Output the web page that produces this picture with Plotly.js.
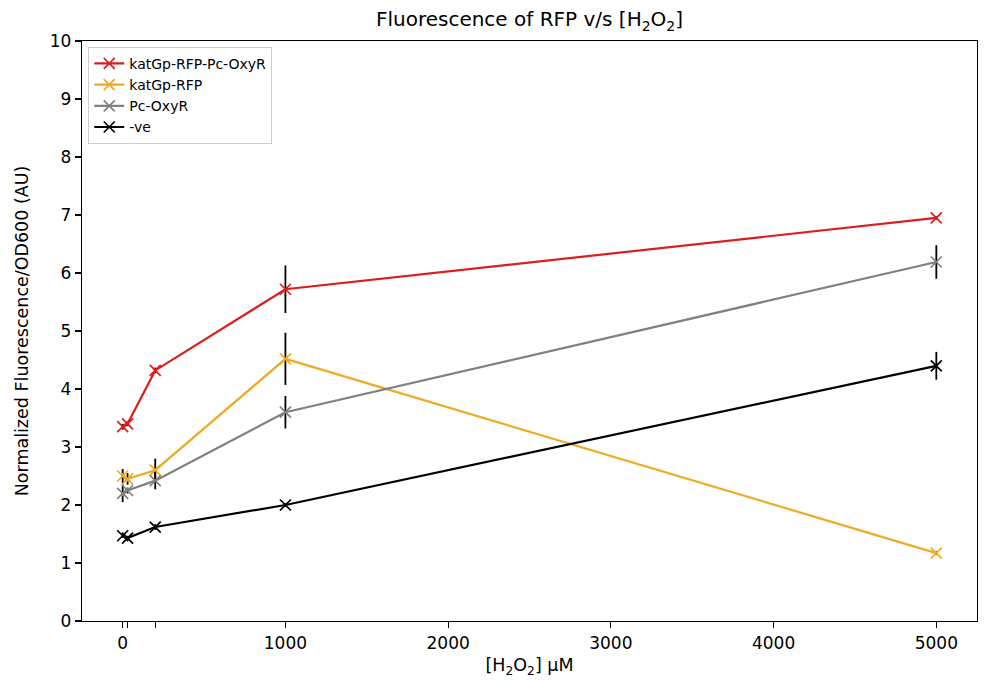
<!DOCTYPE html>
<html>
<head>
<meta charset="utf-8">
<script src="https://cdn.plot.ly/plotly-3.0.1.min.js"></script>
<style>html,body{margin:0;padding:0;background:#fff;}#chart{width:989px;height:693px;}</style>
</head>
<body>
<div id="chart"></div>
<script>
const concentrations = [0, 30, 200, 1000, 5000];
const seriesNames = ["katGp-RFP-Pc-OxyR", "katGp-RFP", "Pc-OxyR", "-ve"];
const redValues    = [3.35, 3.40, 4.32, 5.72, 6.95];
const redErrors    = [0.05, 0.04, 0.05, 0.41, 0.03];
const yellowValues = [2.50, 2.45, 2.60, 4.52, 1.17];
const yellowErrors = [0.12, 0.10, 0.20, 0.45, 0.03];
const grayValues   = [2.20, 2.25, 2.42, 3.60, 6.19];
const grayErrors   = [0.15, 0.05, 0.15, 0.28, 0.29];
const blackValues  = [1.47, 1.43, 1.62, 2.00, 4.40];
const blackErrors  = [0.04, 0.04, 0.05, 0.03, 0.24];
const xTickValues  = [0, 30, 200, 1000, 2000, 3000, 4000, 5000];
const xTickLabels  = ["0", "", "", "1000", "2000", "3000", "4000", "5000"];
const yTickValues  = [0, 1, 2, 3, 4, 5, 6, 7, 8, 9, 10];

const colors = ["#dd1c1c", "#eeaa22", "#808080", "#000000"];
const allValues = [redValues, yellowValues, grayValues, blackValues];
const allErrors = [redErrors, yellowErrors, grayErrors, blackErrors];

const traces = seriesNames.map((name, i) => ({
  type: "scatter",
  mode: "lines+markers",
  name: name,
  x: concentrations,
  y: allValues[i],
  line: {color: colors[i], width: 2.2},
  marker: {symbol: "x-thin-open", size: 11, line: {color: colors[i], width: 1.7}, color: colors[i]},
  error_y: {type: "data", array: allErrors[i], visible: true, color: "#000000", thickness: 1.8, width: 0}
}));

const font = "DejaVu Sans, sans-serif";
const layout = {
  width: 989, height: 693,
  margin: {l: 82, r: 12, t: 41, b: 72},
  paper_bgcolor: "#ffffff", plot_bgcolor: "#ffffff",
  font: {family: font, color: "#000000", size: 17},
  title: {text: "Fluorescence of RFP v/s [H<sub>2</sub>O<sub>2</sub>]", font: {family: font, size: 20, color: "#000"}, x: 0.5, xref: "paper", xanchor: "center", y: 0.972, yanchor: "middle"},
  xaxis: {
    range: [-250, 5250],
    tickmode: "array", tickvals: xTickValues, ticktext: xTickLabels,
    ticks: "outside", ticklen: 6, tickwidth: 1.2, tickcolor: "#000",
    showline: true, linecolor: "#000", linewidth: 1.3, mirror: true,
    showgrid: false, zeroline: false,
    tickfont: {family: font, size: 17, color: "#000"},
    title: {text: "[H<sub>2</sub>O<sub>2</sub>] μM", font: {family: font, size: 17.5, color: "#000"}, standoff: 7}
  },
  yaxis: {
    range: [0, 10],
    tickmode: "array", tickvals: yTickValues,
    ticks: "outside", ticklen: 6, tickwidth: 1.2, tickcolor: "#000",
    showline: true, linecolor: "#000", linewidth: 1.3, mirror: true,
    showgrid: false, zeroline: false,
    tickfont: {family: font, size: 17, color: "#000"},
    title: {text: "Normalized Fluorescence/OD600 (AU)", font: {family: font, size: 17.5, color: "#000"}, standoff: 16}
  },
  legend: {
    x: 0.007, y: 0.99, xanchor: "left", yanchor: "top",
    bgcolor: "rgba(255,255,255,0.9)", bordercolor: "#cccccc", borderwidth: 1,
    font: {family: font, size: 14, color: "#000"},
    tracegroupgap: 0
  },
  showlegend: true
};

Plotly.newPlot("chart", traces, layout, {displayModeBar: false, staticPlot: true});
</script>
</body>
</html>
